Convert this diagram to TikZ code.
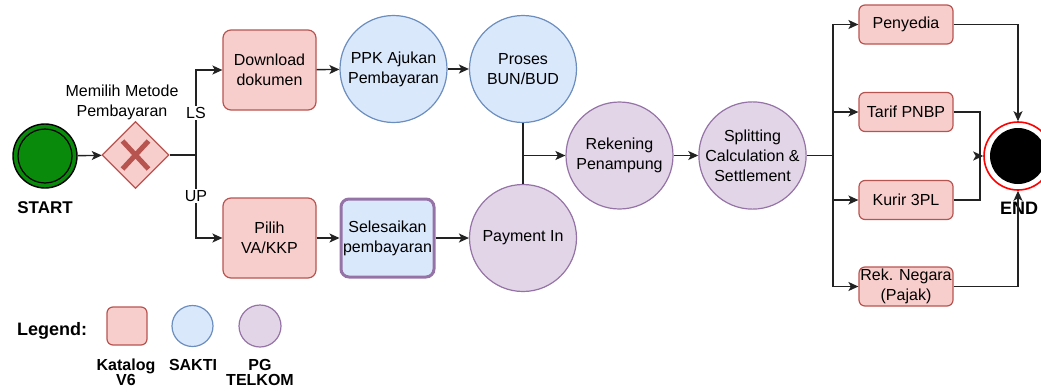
\documentclass[tikz,border=0pt]{standalone}
\usepackage{fontspec}
\setmainfont{Liberation Sans}
\usetikzlibrary{arrows.meta,shapes.geometric}
\definecolor{redF}{HTML}{F8CECC}
\definecolor{redD}{HTML}{B85450}
\definecolor{blueF}{HTML}{DAE8FC}
\definecolor{blueD}{HTML}{6C8EBF}
\definecolor{purF}{HTML}{E1D5E7}
\definecolor{purD}{HTML}{9673A6}
\definecolor{startG}{HTML}{0A8A0A}
\definecolor{lineC}{HTML}{222222}
\begin{document}
\begin{tikzpicture}[x=1pt,y=-1pt,
  every node/.style={font=\fontsize{16}{20}\selectfont, align=center, inner sep=0pt},
  katalog/.style={rectangle, rounded corners=8pt, fill=redF, draw=redD, line width=1.2pt, minimum width=93pt, minimum height=80pt},
  smallbox/.style={rectangle, rounded corners=6pt, fill=redF, draw=redD, line width=1.2pt, minimum width=94pt, minimum height=39pt},
  sakti/.style={circle, fill=blueF, draw=blueD, line width=1.2pt, minimum size=107pt},
  pg/.style={circle, fill=purF, draw=purD, line width=1.2pt, minimum size=107pt},
  conn/.style={draw=lineC, line width=1.4pt},
  arr/.style={conn, -{Stealth[length=10pt,width=9pt,inset=2.5pt]}},
  lbl/.style={fill=white, inner sep=1pt},
  boldlbl/.style={font=\bfseries\fontsize{16}{15}\selectfont}
]
\useasboundingbox (0,0) rectangle (1041,391);

% start
\node[circle, fill=startG, draw=black, line width=1.4pt, minimum size=64pt] (start) at (45,156) {};
\draw[black, line width=1.2pt] (start.center) circle (27);
\node[font=\bfseries\fontsize{17}{19}\selectfont] (startlbl) at (45,208) {START};

% gateway
\node[diamond, fill=redF, draw=redD, line width=1.2pt, minimum width=67pt, minimum height=67pt] (gw) at (135.5,155) {};
\draw[redD, line width=5pt] ([shift={(-13,-14)}]gw.center) -- ([shift={(13,14)}]gw.center)
                            ([shift={(-13,14)}]gw.center) -- ([shift={(13,-14)}]gw.center);
\node (gwlbl) at (122,102) {Memilih Metode\\Pembayaran};

% nodes
\node[katalog] (dl) at (269.5,70) {Download\\dokumen};
\node[sakti] (ppk) at (393.5,69) {PPK Ajukan\\Pembayaran};
\node[sakti] (bun) at (523,69) {Proses\\BUN/BUD};
\node[katalog] (pilih) at (269.5,238) {Pilih\\VA/KKP};
\node[rectangle, rounded corners=8pt, fill=blueF, draw=purD, line width=3pt, minimum width=93pt, minimum height=78pt] (sel) at (387.5,238) {Selesaikan\\pembayaran};
\node[pg] (pay) at (523,238) {Payment In};
\node[pg] (rek) at (619.5,155.5) {Rekening\\Penampung};
\node[pg] (spl) at (752.5,155.5) {Splitting\\Calculation \&\\Settlement};

\node[smallbox] (peny) at (906,24.5) {Penyedia};
\node[smallbox] (tarif) at (906,112) {Tarif PNBP};
\node[smallbox] (kurir) at (906,200) {Kurir 3PL};
\node[smallbox] (rekneg) at (906,286.5) {Rek. Negara\\(Pajak)};

% end
\node[circle, fill=white, draw=red, line width=1.6pt, minimum size=68pt] (end) at (1018,156) {};
\fill[black] (end.center) circle (28);

% connectors
\draw[arr] (start) -- (gw);
\coordinate (j1) at (196,155);
\draw[conn] (gw.east) -- (j1);
\draw[arr] (j1) |- (dl.west);
\draw[arr] (j1) |- (pilih.west);
\node[lbl] (ls) at (196,113) {LS};
\node[lbl] (up) at (196,196) {UP};

\draw[arr] (dl) -- (ppk);
\draw[arr] (ppk) -- (bun);
\draw[arr] (pilih) -- (sel);
\draw[arr] (sel) -- (pay);
\draw[conn] (bun.south) -- (pay.north);
\coordinate (j2) at (523,155.5);
\draw[arr] (j2) -- (rek.west);
\draw[arr] (rek) -- (spl);

\coordinate (j3) at (833,155.5);
\draw[conn] (spl.east) -- (j3);
\draw[arr] (j3) |- (peny.west);
\draw[arr] (j3) |- (tarif.west);
\draw[arr] (j3) |- (kurir.west);
\draw[arr] (j3) |- (rekneg.west);

\node[font=\bfseries\fontsize{18}{20}\selectfont] (endlbl) at (1019,208) {END};

\draw[arr] (peny.east) -| (end.north);
\coordinate (j4) at (980,156);
\draw[conn] (tarif.east) -| (j4);
\draw[conn] (kurir.east) -| (j4);
\draw[arr] (j4) -- (end.west);
\draw[arr] (rekneg.east) -| (end.south);

% legend
\node[font=\bfseries\fontsize{18}{20}\selectfont] (leg) at (52,331) {Legend:};
\node[rectangle, rounded corners=6pt, fill=redF, draw=redD, line width=1.2pt, minimum width=40pt, minimum height=38pt] (lk) at (127,326) {};
\node[circle, fill=blueF, draw=blueD, line width=1.2pt, minimum size=41pt] (ls2) at (192.5,326) {};
\node[circle, fill=purF, draw=purD, line width=1.2pt, minimum size=42pt] (lp) at (260,326) {};
\node[boldlbl, anchor=north] (lkt) at (126,359) {Katalog\\V6};
\node[boldlbl, anchor=north] (lst) at (193,359) {SAKTI};
\node[boldlbl, anchor=north] (lpt) at (260,359) {PG\\TELKOM};
\end{tikzpicture}
\end{document}
